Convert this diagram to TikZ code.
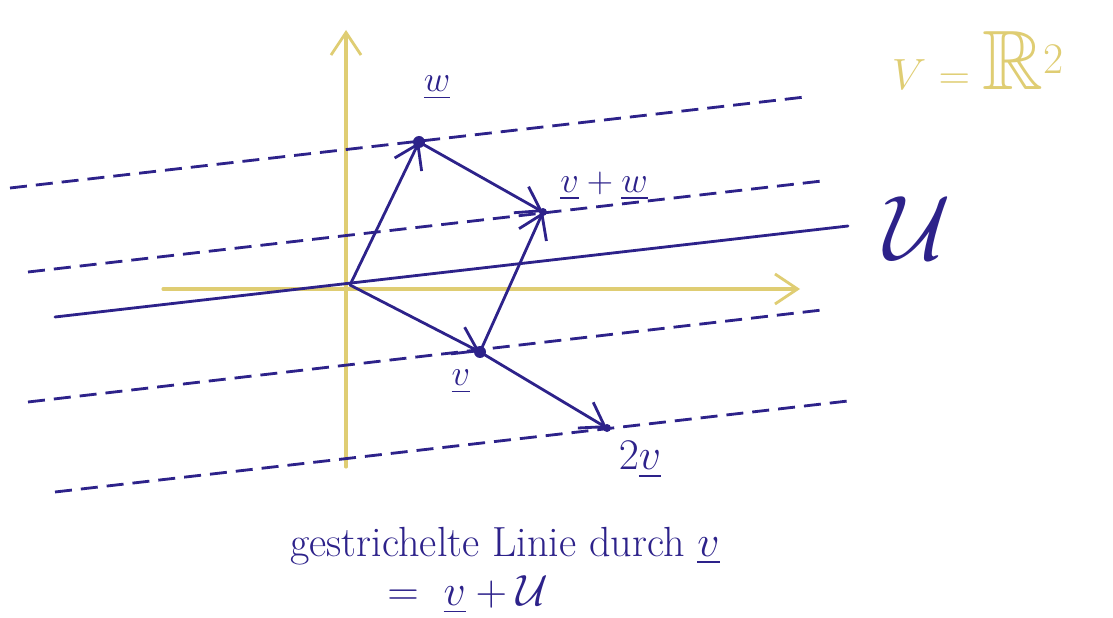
\documentclass[tikz,border=0pt]{standalone}
\usepackage{amsmath,amssymb}
\usepackage{xcolor}
\usepackage{tikz}
\usetikzlibrary{arrows.meta,positioning,calc}
\definecolor{ink}{RGB}{45,34,138}
\definecolor{gold}{RGB}{223,205,115}

\begin{document}
\begin{tikzpicture}[x=0.02cm, y=-0.02cm, >={Straight Barb[length=4.5mm,width=6mm,line width=1.6pt]},
  line cap=round,
  axis/.style={gold, line width=1.8pt},
  vec/.style={ink, line width=1.6pt, ->},
  aff/.style={ink, line width=1.6pt, dash pattern=on 0.34cm off 0.18cm, line cap=butt},
  lbl/.style={ink, font=\fontsize{22}{26}\selectfont}]
\useasboundingbox (0,0) rectangle (1113,618);
% axes
\coordinate (xl) at (163,289);
\coordinate (xr) at (800,289);
\coordinate (yb) at (346,467);
\coordinate (yt) at (346,30);
\draw[axis, ->] (xl) -- (xr);
\draw[axis, ->] (yb) -- (yt);
% points
\coordinate (O) at (350,285);
\coordinate (w) at (419,142);
\coordinate (v) at (480,352);
\coordinate (vw) at (543,212);
\coordinate (vv) at (607,428);
% subspace U and its shifted copies
\coordinate (U1) at (55,317);
\coordinate (U2) at (848,226);
\draw[ink, line width=1.6pt] (U1) -- (U2);
\coordinate (a1) at (10,188);  \coordinate (a2) at (805,97);
\coordinate (b1) at (28,272);  \coordinate (b2) at (822,181);
\coordinate (c1) at (28,402);  \coordinate (c2) at (822,310);
\coordinate (d1) at (55,492);  \coordinate (d2) at (848,401);
\draw[aff] (a1) -- (a2);
\draw[aff] (b1) -- (b2);
\draw[aff] (c1) -- (c2);
\draw[aff] (d1) -- (d2);
% vectors
\draw[vec] (O) -- (w);
\draw[vec] (O) -- (v);
\draw[vec] (w) -- (vw);
\draw[vec] (v) -- (vw);
\draw[vec] (v) -- (vv);
\fill[ink] (w) circle (6);
\fill[ink] (v) circle (6);
\fill[ink] (vw) circle (4);
\fill[ink] (vv) circle (4);
% labels
\node[lbl] (lw) at (437,88) {$\underline{w}$};
\node[lbl] (lvw) at (604,186) {$\underline{v}+\underline{w}$};
\node[lbl] (lv) at (461,382) {$\underline{v}$};
\node[lbl, font=\fontsize{28}{32}\selectfont] (lvv) at (640,460) {$2\underline{v}$};
\node[ink, font=\fontsize{24}{28}\selectfont, inner sep=0pt, scale=2.1] (lU) at (918,228) {$\mathcal{U}$};
\node[gold, font=\fontsize{48}{52}\selectfont, inner sep=0pt] (lV) at (978,60) {$V=\mathbb{R}^2$};
\node[lbl, font=\fontsize{24}{28}\selectfont, inner sep=0pt] (txt) at (505,546) {gestrichelte Linie durch $\underline{v}$};
\node[lbl, font=\fontsize{24}{28}\selectfont, inner sep=0pt] (txt2) at (468,595) {$=\ \underline{v}+\mathcal{U}$};
\end{tikzpicture}
\end{document}
